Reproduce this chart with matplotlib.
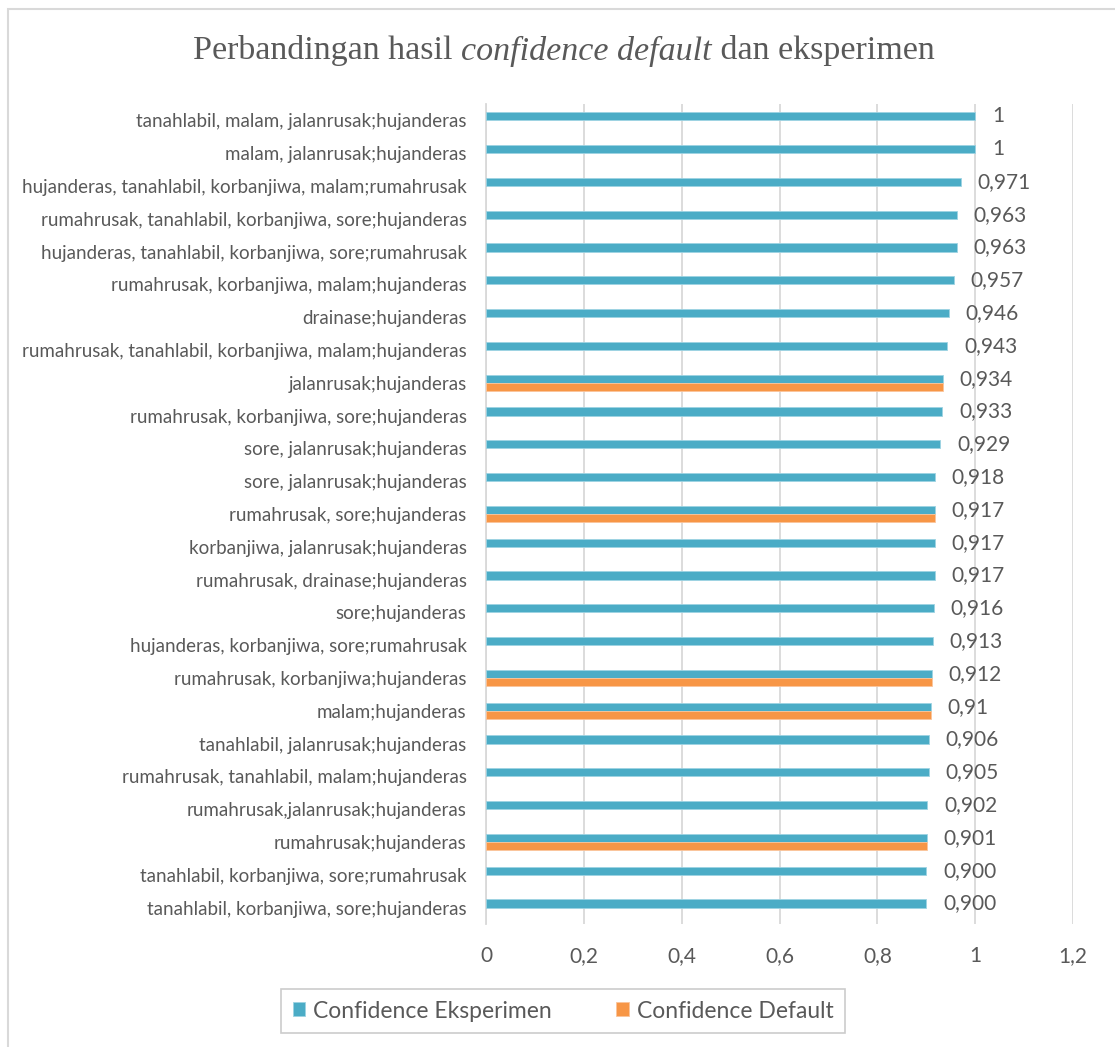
import numpy as np
import matplotlib
matplotlib.use("Agg")
import matplotlib.pyplot as plt
from matplotlib.patches import Rectangle

categories = [
    "tanahlabil, malam, jalanrusak;hujanderas",
    "malam, jalanrusak;hujanderas",
    "hujanderas, tanahlabil, korbanjiwa, malam;rumahrusak",
    "rumahrusak, tanahlabil, korbanjiwa, sore;hujanderas",
    "hujanderas, tanahlabil, korbanjiwa, sore;rumahrusak",
    "rumahrusak, korbanjiwa, malam;hujanderas",
    "drainase;hujanderas",
    "rumahrusak, tanahlabil, korbanjiwa, malam;hujanderas",
    "jalanrusak;hujanderas",
    "rumahrusak, korbanjiwa, sore;hujanderas",
    "sore, jalanrusak;hujanderas",
    "sore, jalanrusak;hujanderas",
    "rumahrusak, sore;hujanderas",
    "korbanjiwa, jalanrusak;hujanderas",
    "rumahrusak, drainase;hujanderas",
    "sore;hujanderas",
    "hujanderas, korbanjiwa, sore;rumahrusak",
    "rumahrusak, korbanjiwa;hujanderas",
    "malam;hujanderas",
    "tanahlabil, jalanrusak;hujanderas",
    "rumahrusak, tanahlabil, malam;hujanderas",
    "rumahrusak,jalanrusak;hujanderas",
    "rumahrusak;hujanderas",
    "tanahlabil, korbanjiwa, sore;rumahrusak",
    "tanahlabil, korbanjiwa, sore;hujanderas",
]

eksperimen = [1.0, 1.0, 0.971, 0.963, 0.963, 0.957, 0.946, 0.943, 0.934, 0.933,
              0.929, 0.918, 0.917, 0.917, 0.917, 0.916, 0.913, 0.912, 0.91, 0.906,
              0.905, 0.902, 0.901, 0.900, 0.900]

default = [np.nan, np.nan, np.nan, np.nan, np.nan, np.nan, np.nan, np.nan, 0.934, np.nan,
           np.nan, np.nan, 0.917, np.nan, np.nan, np.nan, np.nan, 0.912, 0.91, np.nan,
           np.nan, np.nan, 0.901, np.nan, np.nan]

value_labels = ["1", "1", "0,971", "0,963", "0,963", "0,957", "0,946", "0,943", "0,934", "0,933",
                "0,929", "0,918", "0,917", "0,917", "0,917", "0,916", "0,913", "0,912", "0,91", "0,906",
                "0,905", "0,902", "0,901", "0,900", "0,900"]

x_ticks = [0, 0.2, 0.4, 0.6, 0.8, 1.0, 1.2]
x_tick_labels = ["0", "0,2", "0,4", "0,6", "0,8", "1", "1,2"]

title_parts = [("Perbandingan hasil ", "normal"), ("confidence default", "italic"), (" dan eksperimen", "normal")]
series_names = ["Confidence Eksperimen", "Confidence Default"]

BLUE = "#4BACC6"
ORANGE = "#F79646"
TXT = "#595959"
GRID = "#D9D9D9"

W, H = 1115, 1047
fig = plt.figure(figsize=(W / 100, H / 100), dpi=100)
fig.patch.set_facecolor("white")

# outer chart border
fig.patches.append(Rectangle((8 / W, -0.1), 1.2, 1 - 9 / H + 0.1, transform=fig.transFigure,
                             fill=False, edgecolor=GRID, linewidth=1.5))

left, right = 486 / W, 1073 / W
top, bottom = 1 - 104 / H, 1 - 924 / H
ax = fig.add_axes([left, bottom, right - left, top - bottom])

y = np.arange(len(categories))
bh = 0.25
ax.barh(y - bh / 2, eksperimen, height=bh, color=BLUE, edgecolor="#9ED3E2", linewidth=0.6,
        label=series_names[0], zorder=3)
ax.barh(y + bh / 2, default, height=bh, color=ORANGE, edgecolor="#FBC59B", linewidth=0.6,
        label=series_names[1], zorder=3)

for yi, v, lab in zip(y, eksperimen, value_labels):
    ax.annotate(lab, xy=(v, yi - bh / 2), xytext=(12, 0), textcoords="offset points",
                ha="left", va="center", fontsize=15, color=TXT, family="Lato")

ax.set_ylim(len(categories) - 0.5, -0.5)
ax.set_xlim(0, 1.2)
ax.set_xticks(x_ticks)
ax.set_xticklabels(x_tick_labels, fontsize=15, color=TXT, family="Lato")
ax.set_yticks(y)
ax.set_yticklabels(categories, fontsize=13.5, color=TXT, family="Lato")
ax.tick_params(axis="both", length=0)
ax.tick_params(axis="x", pad=16)
ax.tick_params(axis="y", pad=14)
ax.grid(axis="x", color=GRID, linewidth=1.3, zorder=0)
ax.set_axisbelow(True)
for s in ["top", "right", "bottom"]:
    ax.spines[s].set_visible(False)
ax.spines["left"].set_color(GRID)
ax.spines["left"].set_linewidth(1.3)

# legend
leg = fig.legend(handles=ax.get_legend_handles_labels()[0], labels=series_names,
                 loc="center", bbox_to_anchor=(563 / W, 1 - 1011 / H), ncol=2,
                 frameon=True, fancybox=False, edgecolor="#BFBFBF",
                 prop={"family": "Lato", "size": 16.5}, handlelength=0.55, handleheight=0.55,
                 handletextpad=0.35, columnspacing=2.8, borderpad=0.5, borderaxespad=0)
leg.get_frame().set_linewidth(1.2)
leg._legend_box.sep = 0
for t in leg.get_texts():
    t.set_color(TXT)

# title built from pieces (normal / italic)
fig.canvas.draw()
renderer = fig.canvas.get_renderer()
pieces = []
for txt, style in title_parts:
    t = fig.text(0, 1 - 51 / H, txt, fontsize=24.5, family="Liberation Serif", style=style,
                 color=TXT, ha="left", va="center")
    pieces.append(t)
widths = [p.get_window_extent(renderer).width for p in pieces]
total = sum(widths)
x0 = (564 - total / 2)
for p, w in zip(pieces, widths):
    p.set_x(x0 / W)
    x0 += w

fig.savefig("out.png", dpi=100, facecolor="white")
